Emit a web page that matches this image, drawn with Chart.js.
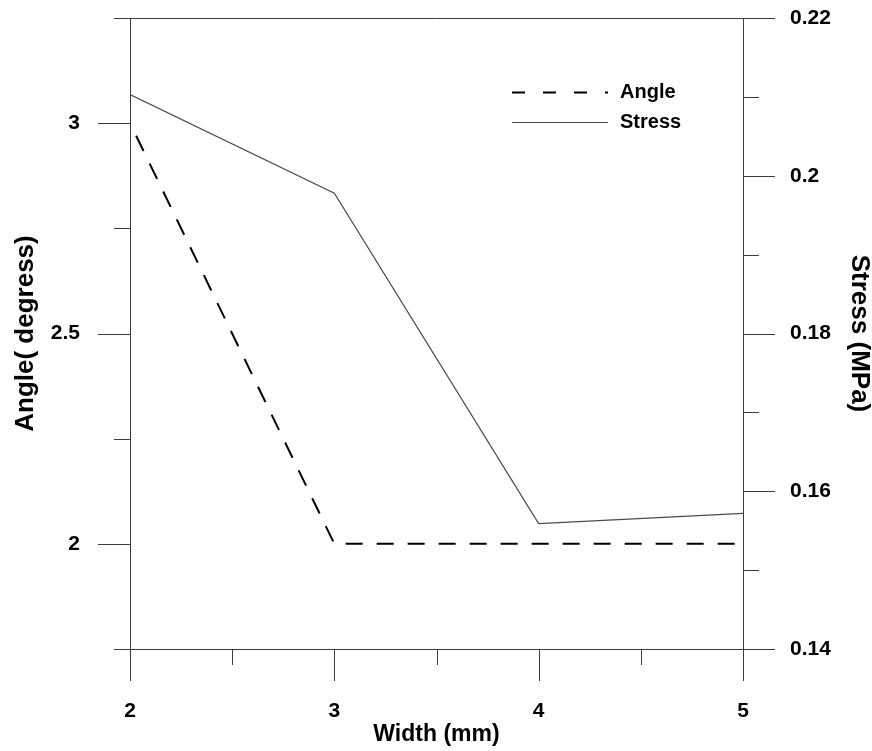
<!DOCTYPE html>
<html>
<head>
<meta charset="utf-8">
<title>Angle and stress vs width</title>
<script src="https://cdn.jsdelivr.net/npm/chart.js@4.4.1/dist/chart.umd.min.js"></script>
<style>
  html, body { margin: 0; padding: 0; background: #fff; }
  #wrap { width: 872px; height: 751px; }
</style>
</head>
<body>
<div id="wrap"><canvas id="stressChart"></canvas></div>
<script>
// width of the part (mm) and the two measured responses
const widths = [2, 3, 4, 5];
const angleValues = [3.0, 2.0, 2.0, 2.0];
const stressValues = [0.2103, 0.1978, 0.1559, 0.1572];

// labelled ticks; the ones in between only get a short mark
const widthTicks = [2, 3, 4, 5];
const angleTicks = [2, 2.5, 3];
const stressTicks = [0.14, 0.16, 0.18, 0.2, 0.22];

const axisColor = '#3c3c3c';
const fontFamily = "'Liberation Sans', Arial, sans-serif";

function hasLabel(list, v) {
    return list.some(t => Math.abs(t - v) < 1e-6);
}

function labelFor(list) {
    return function (value) {
        return hasLabel(list, value) ? String(Math.round(value * 100) / 100) : '';
    };
}

const labelLists = { x: widthTicks, y: angleTicks, y1: stressTicks };

// outward tick marks (long for labelled values) plus the top frame line
const axisMarks = {
    id: 'axisMarks',
    afterDraw(chart) {
        const ctx = chart.ctx;
        const area = chart.chartArea;
        ctx.save();
        ctx.strokeStyle = axisColor;
        ctx.lineWidth = 1;
        ctx.beginPath();
        ctx.moveTo(area.left, area.top + 0.5);
        ctx.lineTo(area.right, area.top + 0.5);
        Object.keys(labelLists).forEach(id => {
            const scale = chart.scales[id];
            scale.ticks.forEach(t => {
                const len = hasLabel(labelLists[id], t.value) ? 32 : 16;
                const p = Math.round(scale.getPixelForValue(t.value)) + 0.5;
                if (id === 'x') {
                    ctx.moveTo(p, area.bottom);
                    ctx.lineTo(p, area.bottom + len);
                } else if (id === 'y') {
                    ctx.moveTo(area.left - len, p);
                    ctx.lineTo(area.left, p);
                } else {
                    ctx.moveTo(area.right, p);
                    ctx.lineTo(area.right + len, p);
                }
            });
        });
        ctx.stroke();
        ctx.restore();
    }
};

// legend inside the plot, upper right
const insideLegend = {
    id: 'insideLegend',
    afterDraw(chart) {
        const ctx = chart.ctx;
        const rows = [
            { ds: chart.data.datasets[0], y: 92, dash: [13, 18] },
            { ds: chart.data.datasets[1], y: 122, dash: [] }
        ];
        ctx.save();
        ctx.font = 'bold 20px ' + fontFamily;
        ctx.fillStyle = '#000';
        ctx.textBaseline = 'middle';
        rows.forEach(r => {
            ctx.beginPath();
            ctx.setLineDash(r.dash);
            ctx.strokeStyle = r.ds.borderColor;
            ctx.lineWidth = r.ds.borderWidth;
            ctx.moveTo(512, r.y + 0.5);
            ctx.lineTo(608, r.y + 0.5);
            ctx.stroke();
            ctx.fillText(r.ds.label, 620, r.y);
        });
        ctx.restore();
    }
};

// fixed box sizes so the plot frame sits where it should; drop the label padding
function fixWidth(w) {
    return function (scale) {
        scale.width = w;
        scale.paddingTop = 0;
        scale.paddingBottom = 0;
    };
}

const tickFont = { size: 21, weight: 'bold' };

const config = {
    type: 'line',
    data: {
        datasets: [{
            label: 'Angle',
            data: widths.map((w, i) => ({ x: w, y: angleValues[i] })),
            yAxisID: 'y',
            borderColor: '#000',
            borderWidth: 2,
            borderDash: [17, 14],
            borderDashOffset: 17,
            pointRadius: 0,
            tension: 0
        }, {
            label: 'Stress',
            data: widths.map((w, i) => ({ x: w, y: stressValues[i] })),
            yAxisID: 'y1',
            borderColor: '#4a4a4a',
            borderWidth: 1.2,
            pointRadius: 0,
            tension: 0
        }]
    },
    options: {
        responsive: true,
        maintainAspectRatio: false,
        animation: false,
        layout: { padding: { top: 18, left: 0, right: 0, bottom: 0 } },
        plugins: {
            legend: { display: false },
            tooltip: { enabled: false }
        },
        scales: {
            x: {
                type: 'linear',
                min: 2,
                max: 5,
                grid: { drawOnChartArea: false, drawTicks: false },
                border: { color: axisColor },
                ticks: {
                    stepSize: 0.5,
                    padding: 50,
                    color: '#000',
                    font: tickFont,
                    callback: labelFor(widthTicks)
                },
                title: {
                    display: true,
                    text: 'Width (mm)',
                    color: '#000',
                    font: { size: 23, weight: 'bold' },
                    padding: { top: 0, bottom: 3 }
                },
                afterFit(scale) {
                    scale.height = 102;
                    scale.paddingLeft = 0;
                    scale.paddingRight = 0;
                }
            },
            y: {
                position: 'left',
                min: 1.75,
                max: 3.25,
                grid: { drawOnChartArea: false, drawTicks: false },
                border: { color: axisColor },
                ticks: {
                    stepSize: 0.25,
                    padding: 50,
                    color: '#000',
                    font: tickFont,
                    callback: labelFor(angleTicks)
                },
                title: {
                    display: true,
                    text: 'Angle( degress)',
                    color: '#000',
                    font: { size: 26, weight: 'bold', lineHeight: 1 },
                    padding: { top: 13, bottom: 0 }
                },
                afterFit: fixWidth(130)
            },
            y1: {
                position: 'right',
                min: 0.14,
                max: 0.22,
                grid: { drawOnChartArea: false, drawTicks: false },
                border: { color: axisColor },
                ticks: {
                    stepSize: 0.01,
                    padding: 47,
                    color: '#000',
                    font: tickFont,
                    callback: labelFor(stressTicks)
                },
                title: {
                    display: true,
                    text: 'Stress (MPa)',
                    color: '#000',
                    font: { size: 26, weight: 'bold', lineHeight: 1 },
                    padding: { top: 0, bottom: 0 }
                },
                afterFit: fixWidth(129)
            }
        }
    },
    plugins: [axisMarks, insideLegend]
};

Chart.defaults.font.family = fontFamily;
new Chart(document.getElementById('stressChart').getContext('2d'), config);
</script>
</body>
</html>
